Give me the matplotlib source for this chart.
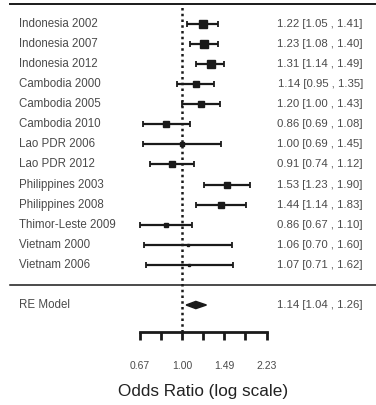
import matplotlib
matplotlib.use("Agg")
import matplotlib.pyplot as plt
import numpy as np

plt.rcParams['font.family'] = ['Liberation Sans', 'DejaVu Sans']

# study estimates
studies = ["Indonesia 2002", "Indonesia 2007", "Indonesia 2012", "Cambodia 2000",
           "Cambodia 2005", "Cambodia 2010", "Lao PDR 2006", "Lao PDR 2012",
           "Philippines 2003", "Philippines 2008", "Thimor-Leste 2009",
           "Vietnam 2000", "Vietnam 2006"]
est = [1.22, 1.23, 1.31, 1.14, 1.20, 0.86, 1.00, 0.91, 1.53, 1.44, 0.86, 1.06, 1.07]
lower = [1.05, 1.08, 1.14, 0.95, 1.00, 0.69, 0.69, 0.74, 1.23, 1.14, 0.67, 0.70, 0.71]
upper = [1.41, 1.40, 1.49, 1.35, 1.43, 1.08, 1.45, 1.12, 1.90, 1.83, 1.10, 1.60, 1.62]

re_est, re_lo, re_hi = 1.14, 1.04, 1.26

tick_vals = [0.67, 0.82, 1.00, 1.22, 1.49, 1.82, 2.23]
tick_labels = ["0.67", "", "1.00", "", "1.49", "", "2.23"]

TXT = "#4a4a4a"
LN = "#1a1a1a"

est = np.array(est)
lower = np.array(lower)
upper = np.array(upper)
k = len(studies)
rows = np.arange(k, 0, -1)

# square size from precision (1/se), like metafor's psize
se = (np.log(upper) - np.log(lower)) / (2 * 1.96)
wi = 1 / se
norm = (wi - wi.min()) / (wi.max() - wi.min())
msize = 1.6 + 4.0 * norm ** 0.6

fig = plt.figure(figsize=(3.76, 4.05), dpi=100)
ax = fig.add_axes([0, 0, 1, 1])
ax.set_xscale('log')
ax.set_xlim(0.1796, 6.24)
ax.set_ylim(-5.98, 14.19)

# header and separator lines
ax.axhline(k + 1, xmin=10 / 376, xmax=1, color=LN, lw=1.4)
ax.axhline(0, xmin=10 / 376, xmax=1, color=LN, lw=1.1)

# reference line at OR = 1
ax.plot([1, 1], [-2.34, k + 1], color=LN, lw=1.8, ls=(0, (1, 1.3)), zorder=1)

ax.errorbar(est, rows, xerr=[est - lower, upper - est], fmt='none',
            ecolor=LN, elinewidth=1.6, capsize=2.5, capthick=1.3, zorder=2)
for x, y, s in zip(est, rows, msize):
    ax.plot(x, y, marker='s', color=LN, markersize=s, ls='none', zorder=3)

# summary diamond
ax.fill([re_lo, re_est, re_hi, re_est], [-1, -0.82, -1, -1.18], color=LN, zorder=3)

xl = 0.2149
xr = 5.51
for name, y, e, lo, hi in zip(studies, rows, est, lower, upper):
    ax.text(xl, y, name, ha='left', va='center', fontsize=8.3, color=TXT)
    ax.text(xr, y, f"{e:.2f} [{lo:.2f} , {hi:.2f}]", ha='right', va='center',
            fontsize=8.2, color=TXT)
ax.text(xl, -1, "RE Model", ha='left', va='center', fontsize=8.3, color=TXT)
ax.text(xr, -1, f"{re_est:.2f} [{re_lo:.2f} , {re_hi:.2f}]", ha='right',
        va='center', fontsize=8.2, color=TXT)

# log-scale axis
for side in ['top', 'left', 'right']:
    ax.spines[side].set_visible(False)
ax.spines['bottom'].set_position(('data', -2.34))
ax.spines['bottom'].set_bounds(tick_vals[0], tick_vals[-1])
ax.spines['bottom'].set_linewidth(2.0)
ax.spines['bottom'].set_color(LN)
ax.set_xticks(tick_vals)
ax.set_xticklabels(tick_labels)
ax.xaxis.set_minor_locator(matplotlib.ticker.NullLocator())
ax.tick_params(axis='x', direction='out', length=6, width=2.0, color=LN,
               pad=15, labelsize=7.5, labelcolor=TXT)
ax.set_yticks([])

ax.text(np.sqrt(tick_vals[0] * tick_vals[-1]), -5.3, "Odds Ratio (log scale)",
        ha='center', va='center', fontsize=12.3, color="#222222")

fig.savefig("out.png", dpi=100)
